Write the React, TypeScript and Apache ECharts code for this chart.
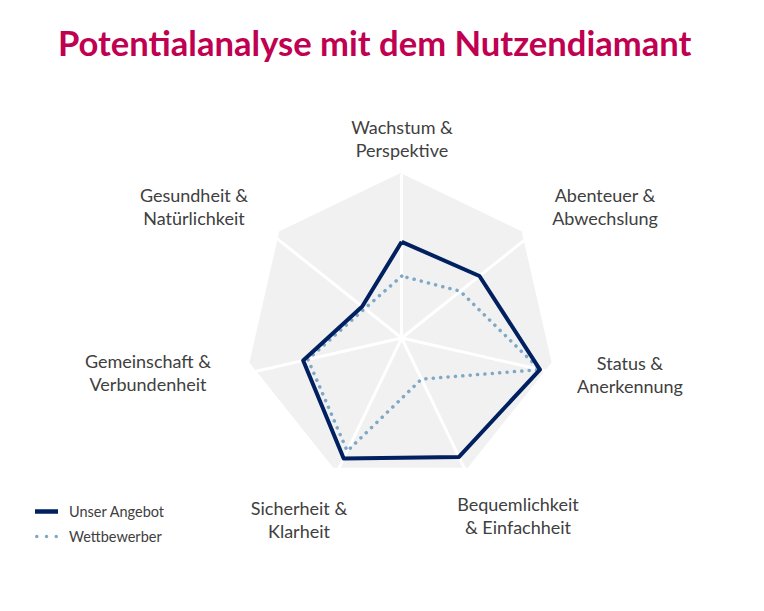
import React, { useEffect, useRef } from "react";
import * as echarts from "echarts";

// ECharts radar order (counter-clockwise from top)
const categories: string[] = [
  "Wachstum &\nPerspektive",
  "Gesundheit &\nNatürlichkeit",
  "Gemeinschaft &\nVerbundenheit",
  "Sicherheit &\nKlarheit",
  "Bequemlichkeit\n& Einfachheit",
  "Status &\nAnerkennung",
  "Abenteuer &\nAbwechslung",
];
const maxValue = 10;
const seriesNames: string[] = ["Unser Angebot", "Wettbewerber"];
const unserAngebot: number[] = [5.9, 3.1, 6.2, 8.2, 8.1, 8.7, 6.1];
const wettbewerber: number[] = [3.8, 2.9, 5.9, 7.7, 2.8, 8.7, 4.6];
const titleText = "Potentialanalyse mit dem Nutzendiamant";

// page offset of the chart div (body margin)
const OFF = 8;
// label layout in page coordinates (centre of each two-line block), same order as categories
const labelPos: [number, number][] = [
  [402, 138.5],
  [194, 206.5],
  [148, 372.5],
  [299, 519.5],
  [518, 515.5],
  [630, 374.5],
  [605, 206.5],
];

const FONT = "Lato, 'Open Sans', sans-serif";

export default function App() {
  const ref = useRef<HTMLDivElement>(null);
  useEffect(() => {
    if (!ref.current) return;
    const chart = echarts.init(ref.current, undefined, { renderer: "svg" });
    const indicator = categories.map((c) => ({ name: c, max: maxValue, min: 0 }));
    const dots =
      "path://M0,2a2,2 0 1,0 4,0a2,2 0 1,0 -4,0z M11,2a2,2 0 1,0 4,0a2,2 0 1,0 -4,0z M22,2a2,2 0 1,0 4,0a2,2 0 1,0 -4,0z";
    chart.setOption({
      animation: false,
      backgroundColor: "#ffffff",
      title: {
        text: titleText,
        left: 58 - OFF - 5,
        top: 25 - OFF - 5,
        textStyle: {
          fontFamily: FONT,
          fontSize: 34.6,
          fontWeight: "bold",
          color: "#C00050",
        },
      },
      legend: {
        orient: "vertical",
        left: 22,
        top: 491,
        itemWidth: 23,
        itemHeight: 14,
        itemGap: 10,
        textStyle: { fontFamily: FONT, fontSize: 14.5, color: "#404040", padding: [0, 0, 0, 6] },
        data: [
          { name: seriesNames[0], icon: "path://M0,0h23v4.5h-23z" },
          { name: seriesNames[1], icon: dots },
        ],
      },
      radar: [
        {
          // grey diamond background
          center: [400.5 - OFF, 328 - OFF],
          radius: 155,
          startAngle: 90,
          splitNumber: 1,
          shape: "polygon",
          indicator,
          axisName: { show: false },
          axisLine: { show: false },
          axisTick: { show: false },
          axisLabel: { show: false },
          splitLine: { show: false },
          splitArea: { show: true, areaStyle: { color: ["#F1F1F1"] } },
          z: 0,
        },
        {
          // spokes and data
          center: [401.7 - OFF, 338 - OFF],
          radius: 163,
          startAngle: 90,
          splitNumber: 1,
          shape: "polygon",
          indicator,
          axisName: { show: false },
          axisLine: { show: true, lineStyle: { color: "#ffffff", width: 3 } },
          axisTick: { show: false },
          axisLabel: { show: false },
          splitLine: { show: false },
          splitArea: { show: false },
          z: 1,
        },
      ],
      series: [
        {
          type: "radar",
          radarIndex: 1,
          symbol: "none",
          z: 3,
          data: [
            {
              name: seriesNames[1],
              value: wettbewerber,
              itemStyle: { color: "#7FA8C6" },
              lineStyle: { color: "#7FA8C6", width: 3.5, type: [0.1, 7.3], cap: "round" },
            },
            {
              name: seriesNames[0],
              value: unserAngebot,
              itemStyle: { color: "#002060" },
              lineStyle: { color: "#002060", width: 4 },
            },
          ],
        },
      ],
      graphic: categories.map((c, i) => ({
        type: "text",
        x: labelPos[i][0] - OFF,
        y: labelPos[i][1] - OFF,
        z: 10,
        style: {
          text: c,
          fontFamily: FONT,
          fontSize: 18,
          lineHeight: 23,
          fill: "#404040",
          align: "center",
          verticalAlign: "middle",
          textAlign: "center",
          textVerticalAlign: "middle",
        },
      })),
    });
    return () => chart.dispose();
  }, []);
  return <div ref={ref} style={{ width: 748, height: 595 }} />;
}
